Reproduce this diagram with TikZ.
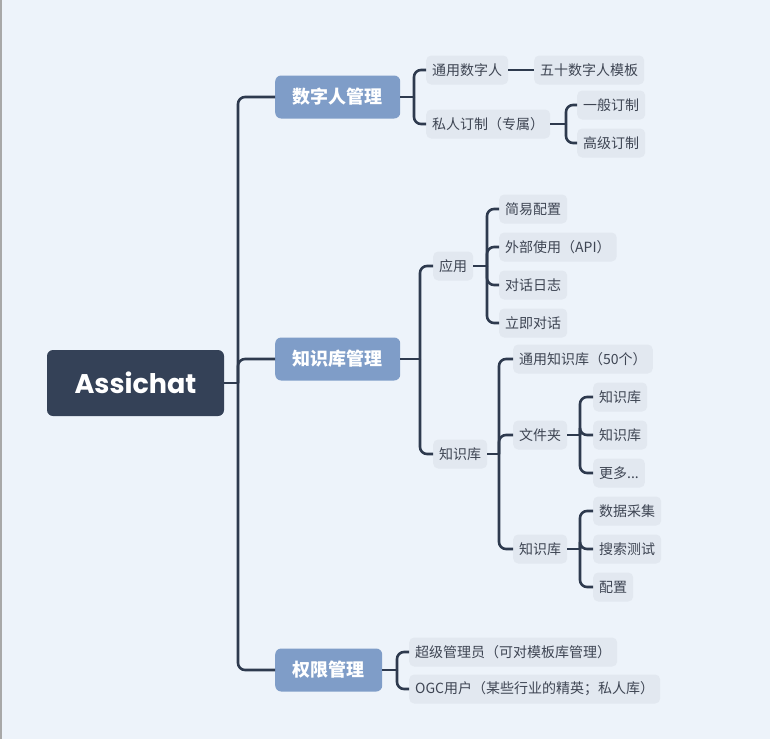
\documentclass[tikz,border=0pt]{standalone}
\usepackage{fontspec}
\newfontfamily\cjk{Noto Sans CJK SC}
\newfontfamily\pop{Poppins}
\definecolor{bgc}{HTML}{EDF3FA}
\definecolor{edgec}{HTML}{A8A8A8}
\definecolor{leaffill}{HTML}{E2E8F0}
\definecolor{txtc}{HTML}{3E4553}
\definecolor{mainfill}{HTML}{7F9DC8}
\definecolor{rootfill}{HTML}{344157}
\definecolor{linec}{HTML}{2E3A4E}
\begin{document}
\begin{tikzpicture}[x=1pt,y=-1pt,
  leaf/.style={fill=leaffill, text=txtc, rounded corners=5pt, font=\cjk\fontsize{14}{16}\selectfont, inner xsep=6pt, inner ysep=0pt, minimum height=29pt, anchor=west},
  mainbox/.style={fill=mainfill, text=white, rounded corners=6pt, font=\cjk\bfseries\fontsize{18}{20}\selectfont, inner xsep=17.5pt, inner ysep=0pt, minimum height=43pt, anchor=west},
  rootbox/.style={fill=rootfill, text=white, rounded corners=6pt, font=\pop\bfseries\fontsize{27}{30}\selectfont, minimum width=177pt, minimum height=66pt, inner sep=0pt},
  conn/.style={draw=linec, line width=2.6pt, rounded corners=7pt}]
\fill[bgc] (0,0) rectangle (770,739);
\fill[edgec] (0,0) rectangle (2,739);
\useasboundingbox (0,0) rectangle (770,739);

% root and main branches
\node[rootbox] (root) at (135.5,383) {Assichat};
\node[mainbox] (m1) at (275,97) {数字人管理};
\node[mainbox] (m2) at (275,359) {知识库管理};
\node[mainbox] (m3) at (275,670) {权限管理};

% branch 1
\node[leaf] (a1) at (426,70) {通用数字人};
\node[leaf] (a1a) at (534,70) {五十数字人模板};
\node[leaf] (a2) at (426,124) {私人订制（专属）};
\node[leaf] (b1) at (577,105) {一般订制};
\node[leaf] (b2) at (577,143) {高级订制};

% branch 2
\node[leaf] (c1) at (433,266) {应用};
\node[leaf] (d1) at (499,209) {简易配置};
\node[leaf] (d2) at (499,247) {外部使用（API）};
\node[leaf] (d3) at (499,285) {对话日志};
\node[leaf] (d4) at (499,323) {立即对话};
\node[leaf] (c2) at (433,454) {知识库};
\node[leaf] (e1) at (513,359) {通用知识库（50个）};
\node[leaf] (e2) at (513,435) {文件夹};
\node[leaf] (e3) at (513,549) {知识库};
\node[leaf] (f1) at (593,397) {知识库};
\node[leaf] (f2) at (593,435) {知识库};
\node[leaf] (f3) at (593,473) {更多...};
\node[leaf] (g1) at (593,511) {数据采集};
\node[leaf] (g2) at (593,549) {搜索测试};
\node[leaf] (g3) at (593,587) {配置};

% branch 3
\node[leaf] (h1) at (409,652) {超级管理员（可对模板库管理）};
\node[leaf] (h2) at (409,689) {OGC用户（某些行业的精英；私人库）};

% joints
\coordinate (j0) at (238,383);
\coordinate (j1) at (414,97);
\coordinate (j2) at (566,124);
\coordinate (j3) at (420,359);
\coordinate (j4) at (487,266);
\coordinate (j5) at (499,454);
\coordinate (j6) at (580,435);
\coordinate (j7) at (580,549);
\coordinate (j8) at (397,670);

% connectors
\draw[conn] (root.east) -- (j0);
\foreach \c in {m1,m2,m3} \draw[conn] (j0) |- (\c.west);
\draw[conn] (m1.east) -- (j1);
\foreach \c in {a1,a2} \draw[conn] (j1) |- (\c.west);
\draw[conn] (a1.east) -- (a1a.west);
\draw[conn] (a2.east) -- (j2);
\foreach \c in {b1,b2} \draw[conn] (j2) |- (\c.west);
\draw[conn] (m2.east) -- (j3);
\foreach \c in {c1,c2} \draw[conn] (j3) |- (\c.west);
\draw[conn] (c1.east) -- (j4);
\foreach \c in {d1,d2,d3,d4} \draw[conn] (j4) |- (\c.west);
\draw[conn] (c2.east) -- (j5);
\foreach \c in {e1,e2,e3} \draw[conn] (j5) |- (\c.west);
\draw[conn] (e2.east) -- (j6);
\foreach \c in {f1,f2,f3} \draw[conn] (j6) |- (\c.west);
\draw[conn] (e3.east) -- (j7);
\foreach \c in {g1,g2,g3} \draw[conn] (j7) |- (\c.west);
\draw[conn] (m3.east) -- (j8);
\foreach \c in {h1,h2} \draw[conn] (j8) |- (\c.west);
\end{tikzpicture}
\end{document}
